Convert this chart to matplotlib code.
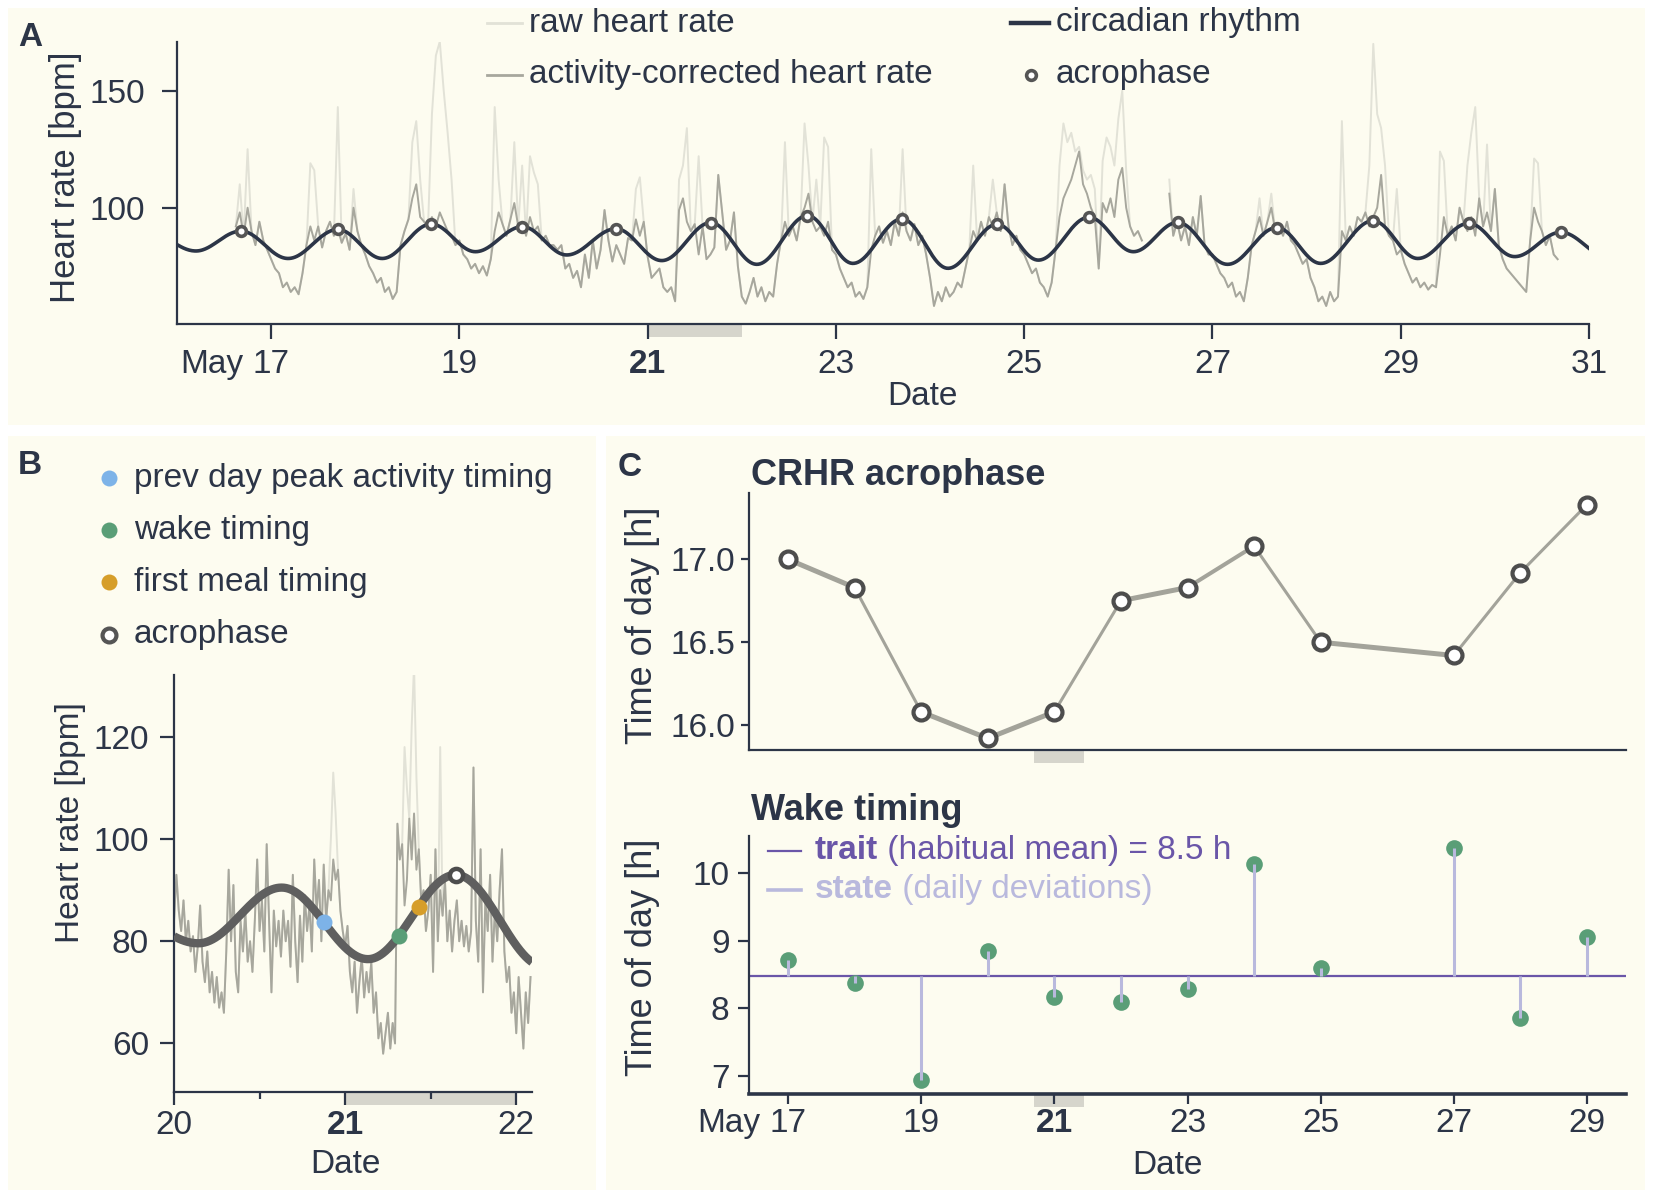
import numpy as np
import matplotlib
matplotlib.use("Agg")
import matplotlib.pyplot as plt
import matplotlib.transforms as mtransforms
from matplotlib.lines import Line2D
from matplotlib.patches import Rectangle

NA = np.nan

# ---------------- panel A: two weeks of heart rate ----------------
# activity-corrected heart rate, one value per hour [bpm]
hr_may16 = [92, 98, 88, 100, 90, 84, 94, 86, 82]  # 15h-23h
hr_may17 = [78, 74, 72, 66, 68, 64, 66, 63, 72, 84, 92, 86, 92, 83, 90, 94, 88, 91, 85, 89, 82, 100, 90, 84]
hr_may18 = [80, 75, 72, 68, 70, 64, 66, 61, 64, 84, 90, 95, 104, 110, 96, 94, 92, 96, 92, 98, 94, 90, 88, 84]
hr_may19 = [86, 80, 78, 74, 76, 72, 75, 71, 78, 90, 98, 93, 88, 95, 102, 92, 94, 88, 96, 90, 92, 86, 88, 84]
hr_may20 = [84, 82, 84, 74, 76, 70, 73, 66, 80, 70, 86, 74, 82, 99, 86, 77, 84, 80, 76, 87, 86, 95, 88, 94]
hr_may21 = [79, 70, 72, 74, 66, 64, 66, 60, 99, 104, 94, 90, 93, 80, 92, 78, 80, 83, 114, 98, 82, 86, 98, 75]
hr_may22 = [62, 59, 64, 70, 62, 66, 60, 64, 62, 76, 86, 94, 88, 92, 86, 96, 100, 106, 94, 90, 92, 88, 94, 82]
hr_may23 = [80, 74, 70, 66, 68, 62, 64, 61, 66, 82, 88, 92, 85, 90, 84, 94, 88, 98, 90, 86, 93, 84, 88, 80]
hr_may24 = [70, 58, 64, 60, 66, 62, 64, 68, 66, 74, 82, 90, 86, 94, 88, 96, 92, 98, 90, 110, 92, 84, 88, 82]
hr_may25 = [80, 76, 72, 74, 68, 66, 62, 68, 82, 96, 104, 108, 112, 118, 124, 110, 106, 100, 96, 74, 102, 98, 104, 96]
hr_may26 = [112, 117, 100, 92, 88, 90, 86, NA, NA, NA, NA, NA, NA, 106, 88, 94, 86, 92, 84, 96, 88, 105, 84, 80]
hr_may27 = [80, 76, 72, 70, 66, 68, 62, 64, 60, 70, 84, 90, 96, 88, 94, 100, 90, 92, 88, 94, 86, 84, 80, 76]
hr_may28 = [78, 70, 66, 60, 62, 58, 64, 60, 62, 90, 86, 92, 88, 96, 94, 98, 92, 96, 100, 114, 92, 88, 86, 80]
hr_may29 = [82, 76, 72, 68, 70, 66, 68, 65, 67, 66, 80, 96, 88, 92, 86, 100, 94, 90, 96, 88, 104, 92, 98, 90]
hr_may30 = [108, 84, 78, 74, 72, 70, 68, 66, 64, 86, 100, 94, 90, 84, 88, 80, 78]  # 0h-16h

# hours where the raw heart rate sits above the activity-corrected one
raw_spike_day = [16, 16, 17, 17, 17, 17, 18, 18, 18, 18, 18, 18, 18, 18, 18,
                 19, 19, 19, 19, 19, 19, 19, 20, 20, 21, 21, 21, 21,
                 22, 22, 22, 22, 22, 22, 23, 23, 24, 24,
                 25, 25, 25, 25, 25, 25, 25, 25, 25, 25, 25, 25, 25, 25,
                 26, 26, 26, 26, 27, 27, 28, 28, 28, 28, 28, 28, 28,
                 29, 29, 29, 29, 29, 29, 30, 30]
raw_spike_hour = [16, 18, 10, 11, 17, 21, 12, 13, 14, 17, 18, 19, 20, 21, 22,
                  9, 10, 14, 16, 18, 19, 20, 21, 22, 8, 9, 10, 13,
                  11, 16, 17, 19, 21, 22, 9, 17, 11, 16,
                  9, 10, 11, 12, 13, 14, 15, 16, 17, 18, 20, 21, 22, 23,
                  0, 1, 2, 13, 12, 15, 9, 16, 17, 18, 19, 20, 23,
                  10, 11, 17, 18, 19, 22, 10, 11]
raw_spike_bpm = [110, 125, 119, 116, 143, 108, 128, 137, 112, 140, 165, 171, 150, 132, 112,
                 143, 112, 128, 118, 122, 115, 110, 108, 113, 112, 118, 134, 122,
                 128, 136, 118, 112, 130, 126, 125, 125, 118, 112,
                 118, 136, 128, 132, 124, 126, 116, 112, 114, 108, 120, 130, 126, 118,
                 138, 150, 116, 112, 104, 106, 137, 118, 170, 140, 134, 118, 108,
                 124, 120, 118, 132, 143, 127, 121, 119]

# circadian rhythm fit: daily acrophase (peak) and nadir
acro_day_a = [15, 16, 17, 18, 19, 20, 21, 22, 23, 24, 25, 26, 27, 28, 29, 30]
acro_hour_a = [16.3, 16.3, 17.0, 16.83, 16.08, 15.92, 16.08, 16.75, 16.83, 17.08, 16.5, 15.1, 16.42, 16.92, 17.33, 16.8]
acro_bpm_a = [90.0, 90.0, 90.7, 93.0, 91.9, 91.0, 93.6, 96.6, 95.2, 92.9, 95.9, 93.7, 91.5, 94.4, 93.3, 89.5]
nadir_day_a = [16.20, 17.18, 18.18, 19.17, 20.14, 21.15, 22.16, 23.18, 24.19, 25.15, 26.16, 27.16, 28.15, 29.18, 30.21, 31.2]
nadir_bpm_a = [81.5, 78.3, 78.3, 81.2, 79.8, 77.4, 75.8, 76.2, 74.1, 77.6, 81.2, 75.8, 76.2, 78.3, 79.1, 79.0]

# ---------------- panel B: May 20-22 close-up, 20-min samples from May 20 00:00 ----------------
hr_b = [84, 93, 86, 82, 88, 80, 84, 78, 81, 74, 79, 87, 76, 72, 78, 70, 74, 68,
        73, 67, 70, 66, 78, 94, 80, 91, 74, 70, 84, 78, 86, 76, 80, 74, 84, 96,
        82, 88, 78, 99, 84, 70, 86, 79, 84, 77, 86, 80, 84, 75, 93, 80, 72, 85,
        76, 89, 82, 87, 78, 96, 86, 92, 80, 95, 84, 90, 88, 96, 92, 94, 86, 82,
        79, 83, 74, 70, 76, 66, 72, 77, 69, 74, 70, 76, 66, 70, 61, 64, 58, 62,
        66, 59, 64, 60, 103, 96, 99, 87, 92, 104, 96, 105, 94, 98, 88, 90, 82, 86,
        93, 74, 98, 80, 90, 85, 92, 80, 86, 78, 84, 88, 80, 84, 79, 83, 78, 82,
        114, 84, 76, 98, 70, 88, 82, 93, 76, 86, 80, 90, 98, 78, 72, 75, 66, 70,
        62, 73, 66, 59, 70, 64, 73]
raw_b_index = [66, 67, 68, 97, 98, 100, 101, 102, 112]
raw_b_bpm = [100, 113, 105, 118, 110, 122, 134, 112, 118]

b_peak_hour = [-8.6, 15.1, 39.5]
b_peak_bpm = [87.0, 90.5, 93.0]
b_nadir_hour = [3.4, 27.2, 52.0]
b_nadir_bpm = [79.6, 76.5, 75.0]

event_labels = ['prev day peak activity timing', 'wake timing', 'first meal timing']
event_hour = [21.0, 31.5, 34.3]  # hours after May 20 00:00

# ---------------- panel C: daily acrophase and wake timing ----------------
c_days = [17, 18, 19, 20, 21, 22, 23, 24, 25, 27, 28, 29]
c_acro_hour = [17.0, 16.83, 16.08, 15.92, 16.08, 16.75, 16.83, 17.08, 16.5, 16.42, 16.92, 17.33]
c_wake_hour = [8.72, 8.37, 6.93, 8.85, 8.16, 8.09, 8.29, 10.13, 8.59, 10.37, 7.85, 9.06]
wake_trait = 8.48

# ---------------- style ----------------
BG = '#FDFCF0'
NAVY = '#2C3547'
RAW = '#E2E2D7'
CORR = '#A7A79D'
EDGE = '#555555'
BAR = '#D6D5CC'
BLUE, GREEN, ORANGE = '#7DB3E8', '#5A9E77', '#D69E2A'
PURPLE, LAVENDER = '#6A56A8', '#B9B9DD'
LINE_C = '#A3A39A'
seg_lw = [3.6, 2.2, 3.6, 3.6, 2.2, 3.6, 2.9, 2.2, 3.6, 2.2, 2.2]

plt.rcParams['font.family'] = ['Liberation Sans', 'DejaVu Sans']
plt.rcParams.update({
    'font.size': 24, 'text.color': NAVY, 'axes.labelcolor': NAVY,
    'axes.edgecolor': NAVY, 'xtick.color': NAVY, 'ytick.color': NAVY,
    'axes.linewidth': 1.6, 'xtick.major.width': 1.6, 'ytick.major.width': 1.6,
    'xtick.minor.width': 1.6, 'xtick.labelsize': 24, 'ytick.labelsize': 24,
    'axes.labelsize': 24,
})

W, H = 1653, 1198
fig = plt.figure(figsize=(W / 100, H / 100), dpi=100)
fig.patch.set_facecolor('white')
for x0, y0, x1, y1 in [(8, 8, 1645, 425), (8, 436, 596, 1190), (606, 436, 1645, 1190)]:
    fig.patches.append(Rectangle((x0 / W, 1 - y1 / H), (x1 - x0) / W, (y1 - y0) / H,
                                 transform=fig.transFigure, fc=BG, ec='none', zorder=-1))


def rhythm(knot_t, knot_v, t):
    order = np.argsort(knot_t)
    kt = np.asarray(knot_t, float)[order]
    kv = np.asarray(knot_v, float)[order]
    i = np.clip(np.searchsorted(kt, t, side='right') - 1, 0, len(kt) - 2)
    f = np.clip((t - kt[i]) / (kt[i + 1] - kt[i]), 0, 1)
    return kv[i] + (kv[i + 1] - kv[i]) * (1 - np.cos(np.pi * f)) / 2


def style(ax):
    ax.set_facecolor('none')
    for s in ['top', 'right']:
        ax.spines[s].set_visible(False)


def under_bar(ax, x0, x1, px=12):
    h = px / (ax.get_position().height * H)
    trans = mtransforms.blended_transform_factory(ax.transData, ax.transAxes)
    ax.add_patch(Rectangle((x0, -h - 0.003), x1 - x0, h, transform=trans, fc=BAR, ec='none',
                           clip_on=False, zorder=0))


def labels(ax, xlab, xpos, ylab, ypos, ysize=24):
    ax.set_xlabel(xlab)
    ax.set_ylabel(ylab, fontsize=ysize)
    ax.xaxis.set_label_coords(*xpos)
    ax.yaxis.set_label_coords(*ypos)
    ax.xaxis.label.set_va('center')
    ax.yaxis.label.set_va('center')


def date_ticks(ax, days, length, pad):
    # day numbers centred on the ticks, month name written in front of the first one
    ax.set_xticks(days)
    ax.set_xticklabels([str(d) for d in days])
    ax.get_xticklabels()[days.index(21)].set_fontweight('bold')
    ax.tick_params(axis='x', length=length, pad=pad)
    off = mtransforms.ScaledTranslation(-20 / 72, -(length + pad) / 72, fig.dpi_scale_trans)
    trans = mtransforms.blended_transform_factory(ax.transData, ax.transAxes) + off
    ax.text(days[0], 0, 'May', transform=trans, ha='right', va='top', fontsize=24, clip_on=False)


# ======== panel A ========
hr_a = np.array(hr_may16 + hr_may17 + hr_may18 + hr_may19 + hr_may20 + hr_may21 + hr_may22 +
                hr_may23 + hr_may24 + hr_may25 + hr_may26 + hr_may27 + hr_may28 + hr_may29 +
                hr_may30, dtype=float)
t_a = 16 + 15 / 24 + np.arange(len(hr_a)) / 24
raw_a = hr_a.copy()
spike_idx = np.round((np.array(raw_spike_day) + np.array(raw_spike_hour) / 24 - t_a[0]) * 24).astype(int)
raw_a[spike_idx] = raw_spike_bpm

peak_t_a = np.array(acro_day_a) + np.array(acro_hour_a) / 24
tt_a = np.linspace(16, 31, 1500)
curve_a = rhythm(np.concatenate([peak_t_a, nadir_day_a]), np.concatenate([acro_bpm_a, nadir_bpm_a]), tt_a)
show = peak_t_a >= 16

axA = fig.add_axes([177 / W, 1 - 324 / H, 1412 / W, 282 / H])
style(axA)
axA.plot(t_a, raw_a, color=RAW, lw=1.4, zorder=1)
axA.plot(t_a, hr_a, color=CORR, lw=1.4, zorder=2)
axA.plot(tt_a, curve_a, color=NAVY, lw=2.6, zorder=3)
axA.plot(peak_t_a[show], np.array(acro_bpm_a)[show], 'o', ms=7, mfc='white', mec=EDGE, mew=2.6, zorder=4)
axA.set_xlim(16, 31)
axA.set_ylim(50.3, 170.8)
axA.set_yticks([100, 150])
axA.tick_params(axis='y', length=11, pad=12)
date_ticks(axA, list(range(17, 32, 2)), 11, 7)
under_bar(axA, 21, 22)
labels(axA, 'Date', (0.528, -0.256), 'Heart rate [bpm]', (-0.079, 0.52), ysize=25)

# legend of panel A
for (x0, x1, y), col, lw in [((487, 522, 23), RAW, 2.0), ((487, 522, 75), CORR, 2.0), ((1011, 1049, 23), NAVY, 3.2)]:
    fig.add_artist(Line2D([x0 / W, x1 / W], [1 - y / H] * 2, transform=fig.transFigure, color=col, lw=lw))
fig.add_artist(Line2D([1031 / W], [1 - 75 / H], transform=fig.transFigure, marker='o', ms=7,
                      mfc='white', mec=EDGE, mew=2.6, ls='none'))
for x, y, s in [(529, 23, 'raw heart rate'), (529, 75, 'activity-corrected heart rate'),
                (1056, 23, 'circadian rhythm'), (1056, 75, 'acrophase')]:
    fig.text(x / W, 1 - y / H, s, fontsize=24, ha='left', va='center')

# ======== panel B ========
t_b = 20 + np.arange(len(hr_b)) / 72
hr_b_arr = np.array(hr_b, dtype=float)
raw_b = hr_b_arr.copy()
raw_b[raw_b_index] = raw_b_bpm
knot_b_t = 20 + np.concatenate([b_peak_hour, b_nadir_hour]) / 24
knot_b_v = np.concatenate([b_peak_bpm, b_nadir_bpm])
tt_b = np.linspace(20, 22.092, 800)
curve_b = rhythm(knot_b_t, knot_b_v, tt_b)

axB = fig.add_axes([174 / W, 1 - 1092 / H, 358 / W, 417 / H])
style(axB)
axB.plot(t_b, raw_b, color=RAW, lw=1.4, zorder=1)
axB.plot(t_b, hr_b_arr, color=CORR, lw=1.4, zorder=2)
axB.plot(tt_b, curve_b, color='#5F5F5F', lw=6, zorder=3, solid_capstyle='butt')
ev_t = 20 + np.array(event_hour) / 24
ev_v = rhythm(knot_b_t, knot_b_v, ev_t)
for t, v, c in zip(ev_t, ev_v, [BLUE, GREEN, ORANGE]):
    axB.plot([t], [v], 'o', ms=11.5, color=c, mec='none', zorder=4)
acro_b_t = 20 + b_peak_hour[-1] / 24
axB.plot([acro_b_t], [b_peak_bpm[-1]], 'o', ms=9.5, mfc='white', mec='#4D4D4D', mew=3.2, zorder=5)
axB.set_xlim(20, 22.092)
axB.set_ylim(50.5, 132.1)
axB.set_yticks([60, 80, 100, 120])
axB.set_xticks([20, 21, 22])
axB.set_xticklabels(['20', '21', '22'])
axB.get_xticklabels()[1].set_fontweight('bold')
axB.set_xticks([20.5, 21.5], minor=True)
axB.tick_params(axis='y', length=10, pad=8)
axB.tick_params(axis='x', length=9, pad=4)
axB.tick_params(axis='x', which='minor', length=5)
under_bar(axB, 21, 22)
labels(axB, 'Date', (0.48, -0.175), 'Heart rate [bpm]', (-0.29, 0.647))

# legend of panel B
leg_rows = [478, 530, 582, 635]
for y, c in zip(leg_rows[:3], [BLUE, GREEN, ORANGE]):
    fig.add_artist(Line2D([109 / W], [1 - y / H], transform=fig.transFigure, marker='o', ms=11.5,
                          color=c, mec='none', ls='none'))
fig.add_artist(Line2D([109 / W], [1 - leg_rows[3] / H], transform=fig.transFigure, marker='o', ms=10,
                      mfc='white', mec=EDGE, mew=3, ls='none'))
for y, s in zip(leg_rows, event_labels + ['acrophase']):
    fig.text(134 / W, 1 - y / H, s, fontsize=24, ha='left', va='center')

# ======== panel C: acrophase ========
axC1 = fig.add_axes([749 / W, 1 - 750 / H, 877 / W, 257 / H])
style(axC1)
for i in range(len(c_days) - 1):
    axC1.plot(c_days[i:i + 2], c_acro_hour[i:i + 2], color=LINE_C, lw=seg_lw[i],
              solid_capstyle='round', zorder=2)
axC1.plot(c_days, c_acro_hour, 'o', ms=11.5, mfc='white', mec='#4D4D4D', mew=3, zorder=4)
axC1.set_xlim(16.414, 29.586)
axC1.set_ylim(15.85, 17.40)
axC1.set_yticks([16.0, 16.5, 17.0])
axC1.set_yticklabels(['16.0', '16.5', '17.0'])
axC1.set_xticks([])
axC1.tick_params(axis='y', length=6, pad=4)
under_bar(axC1, 20.70, 21.45)
axC1.set_ylabel('Time of day [h]', fontsize=26)
axC1.yaxis.set_label_coords(-0.121, 0.486)
axC1.yaxis.label.set_va('center')
fig.text(751 / W, 1 - 485 / H, 'CRHR acrophase', fontsize=26, fontweight='bold', ha='left', va='baseline')

# ======== panel C: wake timing ========
axC2 = fig.add_axes([749 / W, 1 - 1094 / H, 877 / W, 258 / H])
style(axC2)
axC2.spines['bottom'].set_linewidth(2.6)
axC2.axhline(wake_trait, color=PURPLE, lw=1.6, zorder=2)
axC2.plot(c_days, c_wake_hour, 'o', ms=12, color=GREEN, mec='none', zorder=3)
axC2.vlines(c_days, wake_trait, c_wake_hour, color=LAVENDER, lw=2.2, zorder=4)
axC2.set_xlim(16.414, 29.586)
axC2.set_ylim(6.73, 10.55)
axC2.set_yticks([7, 8, 9, 10])
axC2.tick_params(axis='y', length=8, pad=6)
date_ticks(axC2, list(range(17, 30, 2)), 7, 3)
under_bar(axC2, 20.70, 21.45)
labels(axC2, 'Date', (0.477, -0.276), 'Time of day [h]', (-0.121, 0.531), ysize=26)
fig.text(751 / W, 1 - 820 / H, 'Wake timing', fontsize=26, fontweight='bold', ha='left', va='baseline')

# legend of wake timing
for y, c, lw, b, rest in [(0.942, PURPLE, 1.6, 'trait', ' (habitual mean) = 8.5 h'),
                          (0.791, LAVENDER, 2.6, 'state', ' (daily deviations)')]:
    axC2.plot([0.0217, 0.0593], [y, y], transform=axC2.transAxes, color=c, lw=lw, clip_on=False)
    tb = axC2.text(0.0753, y, b, transform=axC2.transAxes, color=c, fontsize=24,
                   fontweight='bold', ha='left', va='center')
    axC2.annotate(rest, xy=(1, 0), xycoords=tb, color=c, fontsize=24, ha='left', va='bottom')

# panel letters
for x, y, s in [(30, 38, 'A'), (30, 465, 'B'), (630, 467, 'C')]:
    fig.text(x / W, 1 - y / H, s, fontsize=24, fontweight='bold', ha='center', va='center')

fig.savefig('out.png', dpi=100)
